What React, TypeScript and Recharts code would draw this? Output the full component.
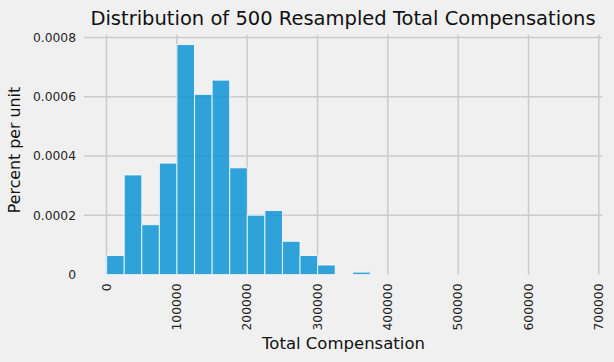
import React from 'react';
import { BarChart, Bar, XAxis, YAxis, CartesianGrid } from 'recharts';

// histogram of 500 resampled total compensations, bins of 25000
const binStarts = [
  0, 25000, 50000, 75000, 100000, 125000, 150000, 175000, 200000,
  225000, 250000, 275000, 300000, 325000, 350000, 375000, 400000,
];
const binCounts = [8, 42, 21, 47, 97, 76, 82, 45, 25, 27, 14, 8, 4, 0, 1, 0, 0];
const binWidth = 25000;
const sampleSize = 500;

const xTicks = [0, 100000, 200000, 300000, 400000, 500000, 600000, 700000];
const yTicks = [0, 0.0002, 0.0004, 0.0006, 0.0008];

const xDomain: [number, number] = [-32000, 704500];
const yDomain: [number, number] = [0, 0.00081];

const W = 614;
const H = 362;
const PLOT_LEFT = 84;
const PLOT_RIGHT = 602;
const PLOT_TOP = 34.5;
const PLOT_BOTTOM = 274.5;

const FONT = '"DejaVu Sans", Verdana, sans-serif';
const TICK_SIZE = 12.3;

// percent per unit = percent of samples in bin / bin width
const data = binStarts.map((start, i) => ({
  mid: start + binWidth / 2,
  density: (binCounts[i] / sampleSize) * 100 / binWidth,
}));

// pixel width of one bin on the x scale
const binPx = (binWidth * (PLOT_RIGHT - PLOT_LEFT)) / (xDomain[1] - xDomain[0]);

// bars edge to edge like matplotlib's hist, whatever width recharts picked
const HistBar = (props: any) => {
  const { x, y, width, height } = props;
  if (!height || height <= 0) return null;
  const cx = x + width / 2;
  return (
    <rect
      x={cx - binPx / 2}
      y={y}
      width={binPx}
      height={height}
      fill="#008fd5"
      fillOpacity={0.8}
      stroke="#ffffff"
      strokeOpacity={0.8}
      strokeWidth={1}
    />
  );
};

const XTick = ({ x, y, payload }: any) => {
  const ty = y + 9;
  return (
    <text
      x={x}
      y={ty}
      transform={`rotate(-90 ${x} ${ty})`}
      textAnchor="end"
      dominantBaseline="central"
      fontSize={TICK_SIZE}
      fontFamily={FONT}
      fill="#222"
    >
      {payload.value}
    </text>
  );
};

export default function App() {
  return (
    <div style={{ position: 'absolute', left: 0, top: 0, width: W, height: H, background: '#f0f0f0' }}>
      <BarChart
        width={W}
        height={H}
        data={data}
        barCategoryGap={0}
        barGap={0}
        margin={{ top: PLOT_TOP, right: W - PLOT_RIGHT, left: 0, bottom: H - PLOT_BOTTOM - 60 }}
      >
        <CartesianGrid
          stroke="#cbcbcb"
          strokeWidth={1.5}
          verticalValues={xTicks}
          horizontalValues={yTicks.slice(1)}
        />
        <XAxis
          dataKey="mid"
          type="number"
          domain={xDomain}
          ticks={xTicks}
          allowDataOverflow
          height={60}
          axisLine={false}
          tickLine={false}
          tickSize={0}
          tickMargin={0}
          interval={0}
          tick={<XTick />}
        />
        <YAxis
          type="number"
          domain={yDomain}
          ticks={yTicks}
          allowDataOverflow
          width={PLOT_LEFT}
          axisLine={false}
          tickLine={false}
          tickSize={0}
          tickMargin={8}
          interval={0}
          tickFormatter={(v: number) => (v === 0 ? '0' : v.toFixed(4))}
          tick={{ fontSize: TICK_SIZE, fontFamily: FONT, fill: '#222' }}
        />
        <Bar
          dataKey="density"
          barSize={binPx}
          shape={<HistBar />}
          isAnimationActive={false}
        />
      </BarChart>
      <svg
        width={W}
        height={H}
        style={{ position: 'absolute', left: 0, top: 0, pointerEvents: 'none' }}
      >
        <text x={343} y={25} textAnchor="middle" fontSize={19.5} fontFamily={FONT} fill="#111">
          Distribution of 500 Resampled Total Compensations
        </text>
        <text x={343.5} y={349} textAnchor="middle" fontSize={16.5} fontFamily={FONT} fill="#111">
          Total Compensation
        </text>
        <text
          x={20}
          y={150}
          transform="rotate(-90 20 150)"
          textAnchor="middle"
          fontSize={15.8}
          fontFamily={FONT}
          fill="#111"
        >
          Percent per unit
        </text>
      </svg>
    </div>
  );
}
